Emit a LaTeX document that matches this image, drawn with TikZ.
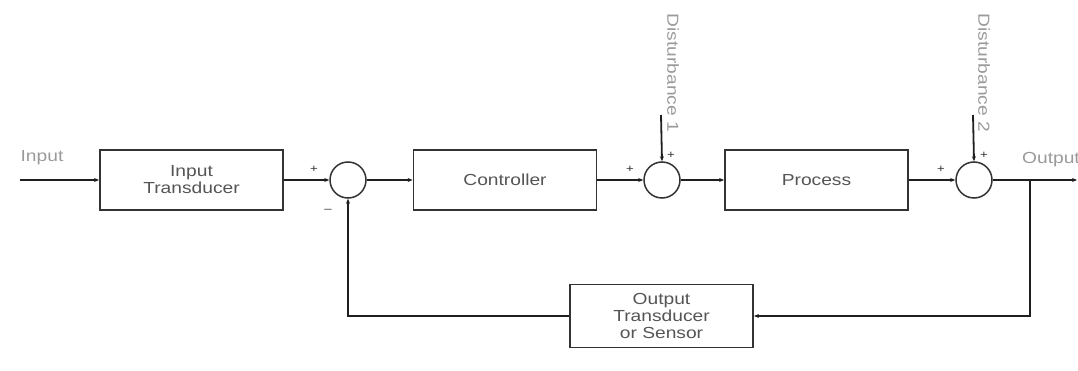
\documentclass[tikz,border=0pt]{standalone}
\usepackage{fontspec}
\setmainfont[FakeStretch=1.2]{Liberation Sans}
\usetikzlibrary{arrows.meta}
\definecolor{boxline}{HTML}{333333}
\definecolor{lbl}{HTML}{9A9A9A}
\definecolor{btxt}{HTML}{555555}
\tikzset{
  blk/.style={draw=boxline, line width=1.8pt, fill=white, minimum width=183pt, align=center, text=btxt, font=\fontsize{16}{17}\selectfont, inner sep=0pt},
  sumj/.style={circle, draw=boxline, line width=1.5pt, minimum size=36pt, inner sep=0pt},
  wire/.style={draw=black!88, line width=1.8pt},
  arr/.style={wire, -{Stealth[length=5pt,width=4pt]}},
  lab/.style={text=lbl, font=\fontsize{16}{17}\selectfont, inner sep=0pt},
  sgn/.style={text=boxline, font=\fontsize{11}{12}\selectfont, inner sep=0pt},
}
\begin{document}
\begin{tikzpicture}[x=1pt,y=-1pt]
\useasboundingbox (0,0) rectangle (1078,371);
\node[blk, minimum height=60pt] (it) at (191.5,180) {Input\\Transducer};
\node[sumj] (s1) at (348,180) {};
\node[blk, minimum height=60pt] (ct) at (505,180) {Controller};
\node[sumj] (s2) at (662,180) {};
\node[blk, minimum height=60pt] (pr) at (816.5,180) {Process};
\node[sumj] (s3) at (974,180) {};
\node[blk, minimum height=63pt] (ot) at (661.5,316) {Output\\Transducer\\or Sensor};

\coordinate (in) at (20,180);
\coordinate (out) at (1077,180);
\coordinate (br) at (1030,180);
\coordinate (d1) at (661,115);
\coordinate (d2) at (973,115);

\node[lab] (lin) at (42,158) {Input};
\node[lab] (lout) at (1051,160) {Output};
\node[lab, rotate=-90] (ld1) at (673,73) {Disturbance 1};
\node[lab, rotate=-90] (ld2) at (984,73) {Disturbance 2};

\draw[arr] (in) -- (it.west);
\draw[arr] (it.east) -- (s1.west);
\draw[arr] (s1.east) -- (ct.west);
\draw[arr] (ct.east) -- (s2.west);
\draw[arr] (s2.east) -- (pr.west);
\draw[arr] (pr.east) -- (s3.west);
\draw[arr] (s3.east) -- (out);
\draw[arr] (d1) -- (s2.north);
\draw[arr] (d2) -- (s3.north);
\draw[arr] (br) |- (ot.east);
\draw[arr] (ot.west) -| (s1.south);

\node[sgn] (p1) at (314,169) {+};
\node[sgn] (m1) at (328,211) {--};
\node[sgn] (p2) at (630,169) {+};
\node[sgn] (p2b) at (671,155) {+};
\node[sgn] (p3) at (941,169) {+};
\node[sgn] (p3b) at (984,155) {+};
\end{tikzpicture}
\end{document}
